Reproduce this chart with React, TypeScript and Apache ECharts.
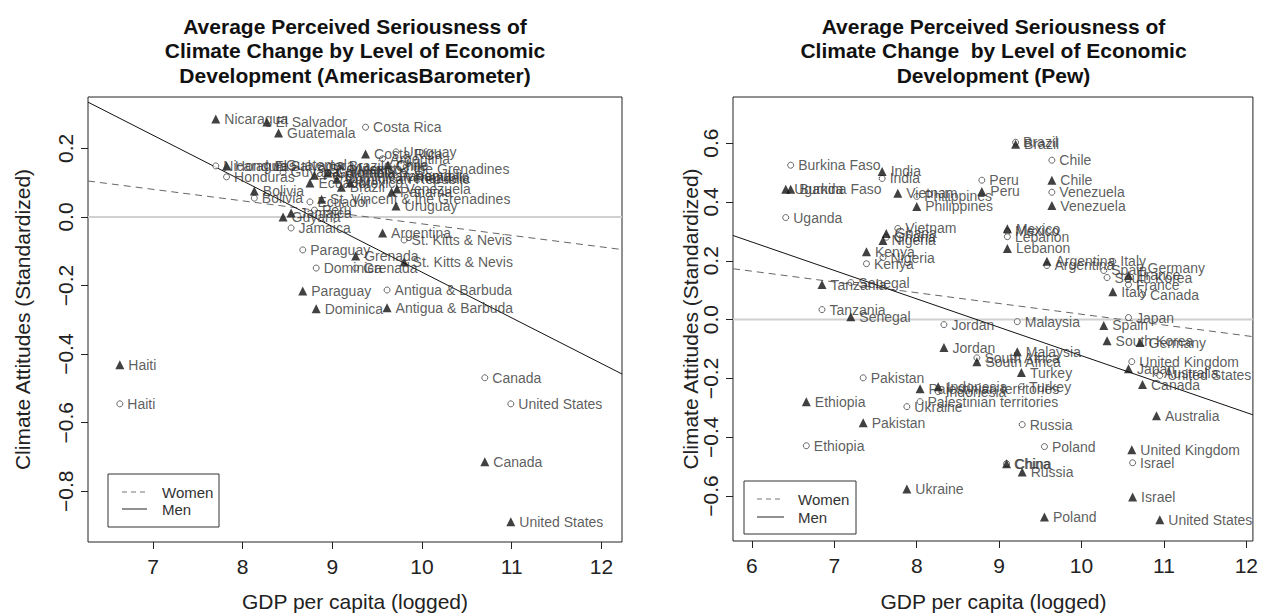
import React, { useEffect, useRef } from "react";
import * as echarts from "echarts";

const FONT = "'Liberation Sans', Arial, Helvetica, sans-serif";

// ---------- Left panel: AmericasBarometer ----------
const amCountries = [
  "Haiti", "Nicaragua", "Honduras", "Bolivia", "El Salvador", "Guatemala", "Guyana",
  "Jamaica", "Paraguay", "Peru", "Ecuador", "Dominica", "St. Vincent & the Grenadines",
  "Colombia", "Dominican Republic", "Brazil", "Mexico", "Grenada", "Costa Rica",
  "Argentina", "Antigua & Barbuda", "Chile", "Panama", "Uruguay", "Venezuela",
  "St. Kitts & Nevis", "Canada", "United States",
];
const amGdp = [
  6.63, 7.70, 7.82, 8.13, 8.27, 8.40, 8.45,
  8.54, 8.67, 8.80, 8.75, 8.82, 8.88,
  8.95, 9.05, 9.10, 9.20, 9.26, 9.37,
  9.56, 9.61, 9.62, 9.66, 9.71, 9.72,
  9.80, 10.70, 10.99,
];
const amWomen = [
  -0.545, 0.149, 0.117, 0.055, 0.150, 0.152, 0.130,
  -0.032, -0.096, 0.020, 0.044, -0.149, 0.140,
  0.130, 0.120, 0.150, 0.140, -0.149, 0.262,
  0.170, -0.213, 0.150, 0.120, 0.190, 0.114,
  -0.067, -0.469, -0.545,
];
const amMen = [
  -0.431, 0.286, 0.149, 0.076, 0.277, 0.245, 0.000,
  0.012, -0.216, 0.122, 0.099, -0.268, 0.052,
  0.128, 0.110, 0.087, 0.100, -0.114, 0.184,
  -0.047, -0.265, 0.152, 0.073, 0.032, 0.082,
  -0.131, -0.714, -0.889,
];
const amXRange = [6.275, 12.23];
const amYRange = [-0.948, 0.35];
const amFitWomen = [0.105, -0.095];
const amFitMen = [0.335, -0.458];
const amXTicks = [7, 8, 9, 10, 11, 12];
const amYTicks = [-0.8, -0.6, -0.4, -0.2, 0, 0.2];
const amTitle = [
  "Average Perceived Seriousness of",
  "Climate Change by Level of Economic",
  "Development (AmericasBarometer)",
];

// ---------- Right panel: Pew ----------
const pewCountries = [
  "Uganda", "Burkina Faso", "Ethiopia", "Tanzania", "Senegal", "Pakistan", "Kenya",
  "India", "Nigeria", "Ghana", "Vietnam", "Ukraine", "Philippines",
  "Palestinian territories", "Indonesia", "Jordan", "South Africa", "Peru", "China",
  "Mexico", "Lebanon", "Brazil", "Malaysia", "Turkey", "Russia", "Poland",
  "Argentina", "Chile", "Venezuela", "Spain", "South Korea", "Italy", "France",
  "Japan", "United Kingdom", "Israel", "Germany", "Canada", "Australia", "United States",
];
const pewGdp = [
  6.41, 6.47, 6.66, 6.85, 7.20, 7.35, 7.39,
  7.58, 7.59, 7.63, 7.77, 7.88, 8.00,
  8.04, 8.26, 8.33, 8.73, 8.79, 9.09,
  9.10, 9.10, 9.20, 9.22, 9.27, 9.28, 9.55,
  9.58, 9.64, 9.64, 10.27, 10.31, 10.38, 10.57,
  10.57, 10.61, 10.62, 10.71, 10.74, 10.91, 10.95,
];
const pewWomen = [
  0.347, 0.525, -0.429, 0.034, 0.126, -0.198, 0.190,
  0.480, 0.211, 0.280, 0.310, -0.296, 0.419,
  -0.279, -0.245, -0.017, -0.130, 0.474, -0.490,
  0.300, 0.282, 0.603, -0.007, -0.228, -0.357, -0.432,
  0.184, 0.542, 0.433, 0.167, 0.143, 0.198, 0.119,
  0.007, -0.143, -0.487, 0.177, 0.085, -0.180, -0.190,
];
const pewMen = [
  0.443, 0.443, -0.279, 0.119, 0.010, -0.351, 0.231,
  0.504, 0.269, 0.293, 0.430, -0.576, 0.385,
  -0.235, -0.228, -0.095, -0.143, 0.436, -0.490,
  0.309, 0.242, 0.596, -0.109, -0.180, -0.518, -0.671,
  0.198, 0.474, 0.388, -0.020, -0.072, 0.095, 0.150,
  -0.167, -0.443, -0.603, -0.078, -0.221, -0.327, -0.681,
];
const pewXRange = [5.77, 12.08];
const pewYRange = [-0.753, 0.757];
const pewFitWomen = [0.173, -0.058];
const pewFitMen = [0.286, -0.324];
const pewXTicks = [6, 7, 8, 9, 10, 11, 12];
const pewYTicks = [-0.6, -0.4, -0.2, 0, 0.2, 0.4, 0.6];
const pewTitle = [
  "Average Perceived Seriousness of",
  "Climate Change  by Level of Economic",
  "Development (Pew)",
];

const legendLabels = ["Women", "Men"];
const xTitle = "GDP per capita (logged)";
const yTitle = "Climate Attitudes (Standardized)";

const fmtY = (v: number) => {
  const s = Math.abs(v).toFixed(1);
  return v < -1e-9 ? "\u2212" + s : s;
};

export default function App() {
  const ref = useRef<HTMLDivElement>(null);
  useEffect(() => {
    document.body.style.margin = "0";
    const chart = echarts.init(ref.current!, null, { renderer: "svg" });

    const grids = [
      { left: 88, top: 97, width: 534, height: 445 },
      { left: 733, top: 97, width: 521, height: 444 },
    ];
    const panels = [
      { countries: amCountries, gdp: amGdp, women: amWomen, men: amMen, xr: amXRange, yr: amYRange,
        fw: amFitWomen, fm: amFitMen, xt: amXTicks, yt: amYTicks, title: amTitle,
        yTitleX: 22, legend: { x: 108, y: 474, w: 111, h: 53, l1: 492, l2: 509, lx1: 122, lx2: 147, tx: 162 } },
      { countries: pewCountries, gdp: pewGdp, women: pewWomen, men: pewMen, xr: pewXRange, yr: pewYRange,
        fw: pewFitWomen, fm: pewFitMen, xt: pewXTicks, yt: pewYTicks, title: pewTitle,
        yTitleX: 690, legend: { x: 744, y: 481, w: 112, h: 53, l1: 499, l2: 517, lx1: 757, lx2: 784, tx: 798 } },
    ];

    const xAxis: any[] = [];
    const yAxis: any[] = [];
    const series: any[] = [];
    const graphic: any[] = [];

    panels.forEach((p, i) => {
      const g = grids[i];
      xAxis.push({
        type: "value", gridIndex: i, min: p.xr[0], max: p.xr[1],
        splitLine: { show: false },
        axisLine: { show: false, onZero: false },
        axisTick: { show: true, length: 7, lineStyle: { color: "#222", width: 1 }, customValues: p.xt },
        axisLabel: { show: true, customValues: p.xt, fontSize: 21, color: "#222", fontFamily: FONT, margin: 14,
          formatter: (v: number) => String(v) },
      });
      yAxis.push({
        type: "value", gridIndex: i, min: p.yr[0], max: p.yr[1],
        splitLine: { show: false },
        axisLine: { show: false, onZero: false },
        axisTick: { show: true, length: 7, lineStyle: { color: "#222", width: 1 }, customValues: p.yt },
        axisLabel: { show: true, customValues: p.yt, fontSize: 21, color: "#222", fontFamily: FONT, margin: 12,
          rotate: 90, formatter: (v: number) => fmtY(v) },
      });
      // zero reference line
      series.push({
        type: "line", xAxisIndex: i, yAxisIndex: i, silent: true, symbol: "none",
        data: [[p.xr[0], 0], [p.xr[1], 0]],
        lineStyle: { color: "#d0d0d0", width: 2 }, z: 1,
      });
      // fitted lines
      series.push({
        type: "line", xAxisIndex: i, yAxisIndex: i, silent: true, symbol: "none",
        data: [[p.xr[0], p.fw[0]], [p.xr[1], p.fw[1]]],
        lineStyle: { color: "#666", width: 1, type: [7, 5] }, z: 2,
      });
      series.push({
        type: "line", xAxisIndex: i, yAxisIndex: i, silent: true, symbol: "none",
        data: [[p.xr[0], p.fm[0]], [p.xr[1], p.fm[1]]],
        lineStyle: { color: "#111", width: 1 }, z: 2,
      });
      const lbl = { show: true, position: "right", distance: 4, formatter: "{b}", fontSize: 14,
        color: "#333", fontFamily: FONT };
      series.push({
        type: "scatter", xAxisIndex: i, yAxisIndex: i, symbol: "circle", symbolSize: 6,
        itemStyle: { color: "#fff", borderColor: "#444", borderWidth: 1 },
        label: lbl, z: 3,
        data: p.countries.map((c, k) => ({ name: c, value: [p.gdp[k], p.women[k]] })),
      });
      series.push({
        type: "scatter", xAxisIndex: i, yAxisIndex: i, symbol: "triangle", symbolSize: 9,
        itemStyle: { color: "#111" },
        label: lbl, z: 3,
        data: p.countries.map((c, k) => ({ name: c, value: [p.gdp[k], p.men[k]] })),
      });

      const cx = g.left + g.width / 2;
      p.title.forEach((t, k) => {
        graphic.push({ type: "text", x: cx, y: 26 + k * 24.5,
          style: { text: t, fontSize: 21, fontWeight: "bold", fontFamily: FONT, fill: "#111",
            textAlign: "center", textVerticalAlign: "middle" } });
      });
      graphic.push({ type: "text", x: cx, y: 601,
        style: { text: xTitle, fontSize: 21, fontFamily: FONT, fill: "#222",
          textAlign: "center", textVerticalAlign: "middle" } });
      graphic.push({ type: "text", x: p.yTitleX, y: g.top + g.height / 2, rotation: Math.PI / 2,
        style: { text: yTitle, fontSize: 21, fontFamily: FONT, fill: "#222",
          textAlign: "center", textVerticalAlign: "middle" } });
      const L = p.legend;
      graphic.push({ type: "rect", shape: { x: L.x, y: L.y, width: L.w, height: L.h },
        style: { fill: "#fff", stroke: "#333", lineWidth: 1 }, z: 10 });
      graphic.push({ type: "line", shape: { x1: L.lx1, y1: L.l1, x2: L.lx2, y2: L.l1 },
        style: { stroke: "#777", lineWidth: 1, lineDash: [5, 4] }, z: 11 });
      graphic.push({ type: "line", shape: { x1: L.lx1, y1: L.l2, x2: L.lx2, y2: L.l2 },
        style: { stroke: "#222", lineWidth: 1 }, z: 11 });
      legendLabels.forEach((t, k) => {
        graphic.push({ type: "text", x: L.tx, y: k === 0 ? L.l1 : L.l2, z: 11,
          style: { text: t, fontSize: 15, fontFamily: FONT, fill: "#333",
            textAlign: "left", textVerticalAlign: "middle" } });
      });
    });

    chart.setOption({
      animation: false,
      backgroundColor: "#fff",
      grid: grids.map((g) => ({ ...g, show: true, borderColor: "#222", borderWidth: 1,
        backgroundColor: "transparent" })),
      xAxis, yAxis, series, graphic,
    });
    return () => chart.dispose();
  }, []);
  return <div ref={ref} style={{ position: "absolute", left: 0, top: 0, width: 1261, height: 615 }} />;
}
